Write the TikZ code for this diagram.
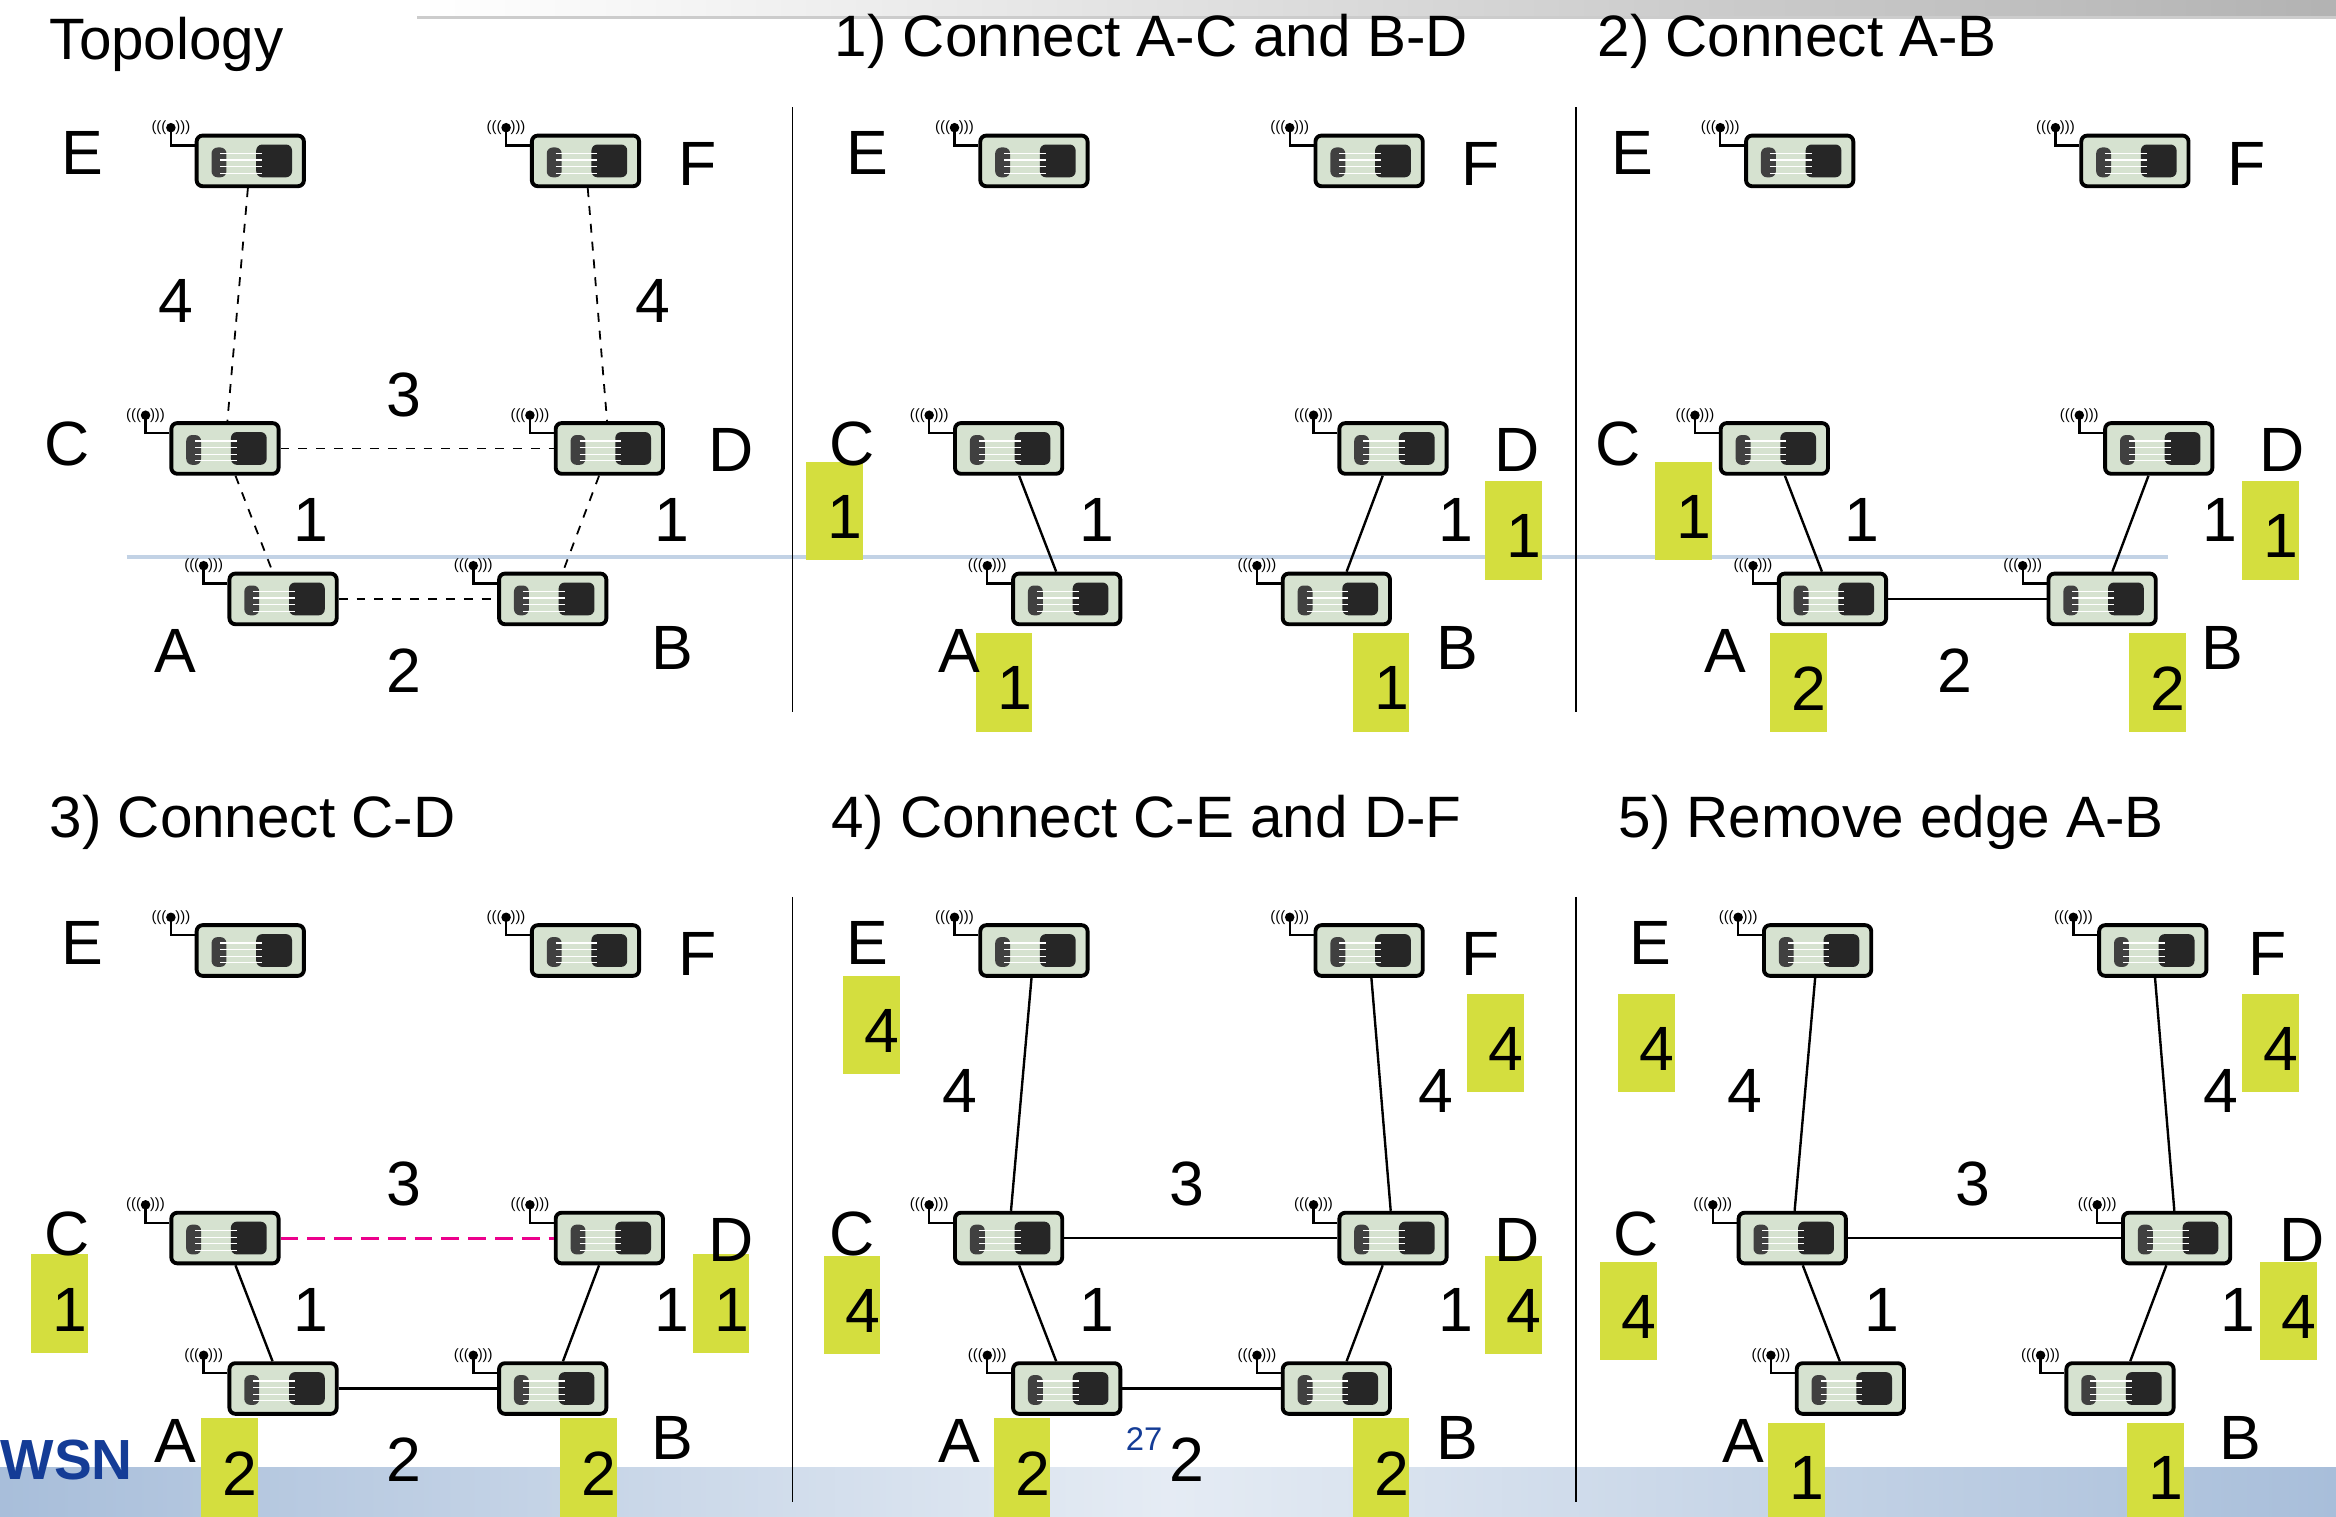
\documentclass[tikz,border=0pt]{standalone}
\usepackage{fontspec}
\setmainfont{Liberation Sans}
\begin{document}
\begin{tikzpicture}[x=0.5pt,y=-0.5pt,
  mote/.style={draw=black,line width=1.3pt,rounded corners=2pt,fill=moteg,minimum width=36pt,minimum height=17pt,inner sep=0pt,
    path picture={
      \fill[black!75] ([xshift=5pt,yshift=-4pt]path picture bounding box.north west) rectangle ++(5pt,-10pt);
      \fill[black!85] ([xshift=-16pt,yshift=-3pt]path picture bounding box.north east) rectangle ++(12pt,-11pt);
      \foreach \k in {0,1,2,3}{\draw[white,line width=0.4pt] ([xshift=8pt,yshift=-6pt-2.2*\k pt]path picture bounding box.north west) -- ++(14pt,0);}
    }},
  lab/.style={font=\fontsize{21}{21}\selectfont,inner sep=0pt},
  ttl/.style={font=\fontsize{19.6}{19.6}\selectfont,inner sep=0pt,anchor=west},
  yb/.style={fill=ylw,minimum width=19pt,minimum height=33pt,inner sep=0pt},
  ybt/.style={font=\fontsize{21}{21}\selectfont,inner sep=0pt},
  dedge/.style={dashed,line width=0.6pt},
  sedge/.style={line width=0.8pt},
  vline/.style={line width=0.6pt}]
\definecolor{moteg}{RGB}{214,226,208}
\definecolor{ylw}{RGB}{212,222,62}
\definecolor{band}{RGB}{168,190,218}
\definecolor{wsn}{RGB}{20,60,150}
\useasboundingbox (0,0) rectangle (1568,1018);
% background decorations
\shade[left color=white,right color=black!30] (280,0) rectangle (1568,12);
\draw[line width=1pt,black!20] (280,12) -- (1568,12);
\shade[left color=band,right color=band,middle color=band!30] (0,985) rectangle (1568,1018);
\draw[line width=1.5pt,band!70] (85,374) -- (1455,374);
\node[font=\bfseries\fontsize{19}{19}\selectfont,text=wsn,anchor=west,inner sep=0pt] (wsn) at (0,980) {WSN};
\node[font=\fontsize{11}{11}\selectfont,text=wsn,inner sep=0pt] (pg) at (768,966) {27};
% titles
\node[ttl] (t0) at (33,30) {Topology};
\node[ttl] (t1) at (560,28) {1) Connect A-C and B-D};
\node[ttl] (t2) at (1072,28) {2) Connect A-B};
\node[ttl] (t3) at (33,552) {3) Connect C-D};
\node[ttl] (t4) at (558,552) {4) Connect C-E and D-F};
\node[ttl] (t5) at (1086,552) {5) Remove edge A-B};
% separators
\coordinate (v1a) at (532,72); \coordinate (v1b) at (532,478);
\coordinate (v2a) at (1058,72); \coordinate (v2b) at (1058,478);
\coordinate (v3a) at (532,602); \coordinate (v3b) at (532,1008);
\coordinate (v4a) at (1058,602); \coordinate (v4b) at (1058,1008);
\draw[vline] (v1a)--(v1b); \draw[vline] (v2a)--(v2b); \draw[vline] (v3a)--(v3b); \draw[vline] (v4a)--(v4b);
% yellow boxes (behind)
\foreach \x/\y/\t [count=\i] in {560/343/1,1016/356/1,674/458/1,927/458/1,
  1130/343/1,1524/356/1,1207/458/2,1448/458/2,
  40/875/1,484/875/1,154/985/2,395/985/2,
  585/688/4,1004/700/4,572/876/4,1016/876/4,686/985/2,927/985/2,
  1105/700/4,1524/700/4,1093/880/4,1536/880/4,1206/988/1,1447/988/1}
  {\node[yb] (y\i) at (\x,\y) {};
   \node[ybt] (yt\i) at ([xshift=3.5pt,yshift=-2pt]y\i.center) {\t};}
% panels
\foreach \p/\dx/\dy/\ex in {0/0/0/0,1/526/0/0,2/1040/0/0,3/0/530/0,4/526/530/0,5/1052/530/0}{
  \node[mote] (\p E) at (168+\dx,108+\dy) {};
  \node[mote] (\p F) at (393+\dx,108+\dy) {};
  \node[mote] (\p C) at (151+\dx,301+\dy) {};
  \node[mote] (\p D) at (409+\dx,301+\dy) {};
  \node[mote] (\p A) at (190+\dx,402+\dy) {};
  \node[mote] (\p B) at (371+\dx,402+\dy) {};
  \foreach \n in {E,F,C,D,A,B}{
    \draw[line width=0.8pt] ([yshift=-4pt]\p\n.north west) -- ++(-8pt,0) -- ++(0,6pt) coordinate (\p\n ant);
    \fill (\p\n ant) circle (1.6pt);
    \node[font=\fontsize{5}{5}\selectfont,inner sep=0pt] (\p\n w) at (\p\n ant) {(((\hspace{3pt})))};
  }
}
% node letters
\foreach \x/\y/\t [count=\i] in {55/103/E,468/110/F,45/298/C,491/302/D,118/437/A,451/435/B,
  582/103/E,994/110/F,572/298/C,1018/302/D,644/437/A,978/435/B,
  1096/103/E,1508/110/F,1086/298/C,1532/302/D,1158/437/A,1492/435/B,
  55/633/E,468/640/F,45/828/C,491/832/D,118/967/A,451/965/B,
  582/633/E,994/640/F,572/828/C,1018/832/D,644/967/A,978/965/B,
  1108/633/E,1522/640/F,1098/828/C,1545/832/D,1170/967/A,1504/965/B}
  {\node[lab] (l\i) at (\x,\y) {\t};}
% edge weights
\foreach \x/\y/\t [count=\i] in {118/202/4,438/202/4,271/265/3,209/349/1,451/349/1,271/450/2,
  736/349/1,977/349/1,1250/349/1,1490/349/1,1312/450/2,
  271/795/3,209/879/1,451/879/1,271/980/2,
  644/732/4,964/732/4,797/795/3,736/879/1,977/879/1,797/980/2,
  1171/732/4,1491/732/4,1324/795/3,1263/879/1,1502/879/1}
  {\node[lab] (w\i) at (\x,\y) {\t};}
% edges
\draw[dedge] (0E)--(0C); \draw[dedge] (0F)--(0D); \draw[dedge] (0C)--(0D);
\draw[dedge] (0C)--(0A); \draw[dedge] (0D)--(0B); \draw[dedge] (0A)--(0B);
\draw[sedge] (1C)--(1A); \draw[sedge] (1D)--(1B);
\draw[sedge] (2C)--(2A); \draw[sedge] (2D)--(2B); \draw[sedge] (2A)--(2B);
\draw[sedge] (3C)--(3A); \draw[sedge] (3D)--(3B); \draw[sedge] (3A)--(3B);
\draw[magenta,dashed,dash pattern=on 6pt off 3pt,line width=1pt] (3C)--(3D);
\draw[sedge] (4E)--(4C); \draw[sedge] (4F)--(4D); \draw[sedge] (4C)--(4D);
\draw[sedge] (4C)--(4A); \draw[sedge] (4D)--(4B); \draw[sedge] (4A)--(4B);
\draw[sedge] (5E)--(5C); \draw[sedge] (5F)--(5D); \draw[sedge] (5C)--(5D);
\draw[sedge] (5C)--(5A); \draw[sedge] (5D)--(5B);
\end{tikzpicture}
\end{document}
